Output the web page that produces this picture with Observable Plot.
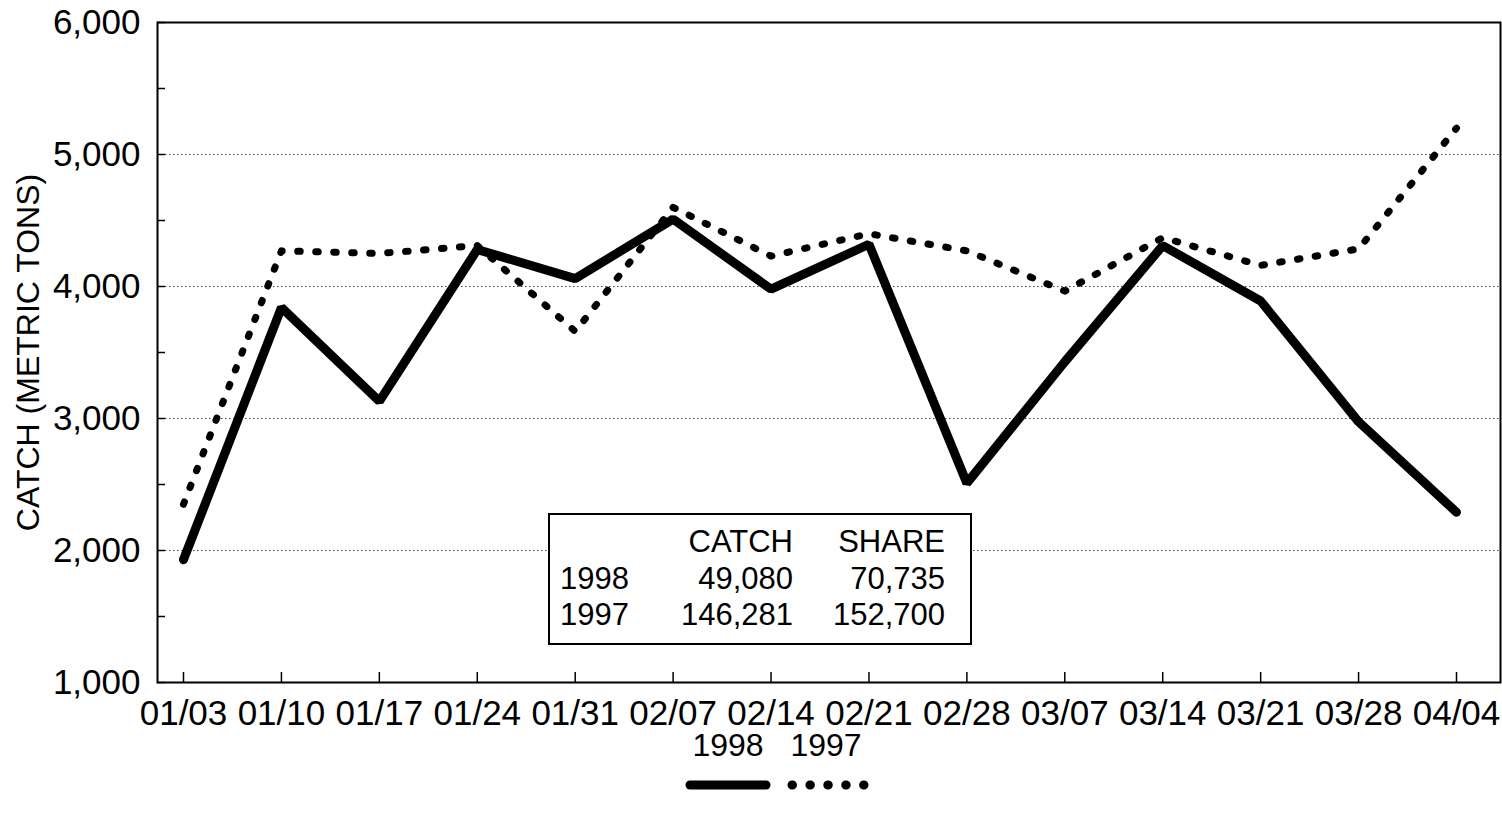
<!DOCTYPE html>
<html><head><meta charset="utf-8">
<script src="https://cdn.jsdelivr.net/npm/d3@7"></script>
<script src="https://cdn.jsdelivr.net/npm/@observablehq/plot@0.6"></script>
<style>
body{margin:0;background:#fff;font-family:"Liberation Sans",Arial,sans-serif;color:#000;}
#wrap{position:relative;width:1502px;height:820px;overflow:hidden;}
#wrap > svg:first-child{position:absolute;left:0;top:0;}
#table{position:absolute;left:548px;top:513px;width:424px;height:132px;box-sizing:border-box;border:2px solid #000;background:#fff;font-size:31px;}
#table div{position:absolute;line-height:36px;white-space:nowrap;}
.leg{position:absolute;font-size:32px;line-height:36px;white-space:nowrap;transform:translateX(-50%);}
</style></head>
<body><div id="wrap"></div>
<script>
const dates = ["01/03","01/10","01/17","01/24","01/31","02/07","02/14","02/21","02/28","03/07","03/14","03/21","03/28","04/04"];
const catch1998 = [1930,3840,3130,4280,4060,4510,3980,4320,2510,3430,4310,3890,2975,2290];
const catch1997 = [2350,4270,4250,4310,3660,4600,4230,4400,4270,3965,4370,4160,4285,5200];
const yTicks = [1000,2000,3000,4000,5000,6000];
const yMinorTicks = [1000,1500,2000,2500,3000,3500,4000,4500,5000,5500,6000];
const gridValues = [2000,3000,4000,5000];
const seriesNames = ["1998","1997"];
const tableHeader = ["CATCH","SHARE"];
const tableYears = ["1998","1997"];
const tableCatch = ["49,080","146,281"];
const tableShare = ["70,735","152,700"];
const yLabel = "CATCH (METRIC TONS)";

const d98 = dates.map((d,i)=>({date:d, value:catch1998[i]}));
const d97 = dates.map((d,i)=>({date:d, value:catch1997[i]}));

const chart = Plot.plot({
  width: 1502, height: 742,
  marginLeft: 157, marginRight: 2, marginTop: 22, marginBottom: 60,
  style: {fontSize: "35px", fontFamily: "'Liberation Sans', Arial, sans-serif", color: "#000", background: "transparent"},
  x: {type: "point", domain: dates, range: [183, 1456], padding: 0, round: false},
  y: {domain: [1000, 6000]},
  marks: [
    Plot.ruleY(gridValues, {stroke: "#444", strokeWidth: 1.2, strokeDasharray: "1.5,2.5"}),
    Plot.axisY({ticks: yMinorTicks, tickSize: 8, dx: 8, tickFormat: () => "", label: null, strokeWidth: 1.5}),
    Plot.axisY({ticks: yTicks, tickSize: 0, tickPadding: 17, tickFormat: d3.format(","), label: null}),
    Plot.axisX({tickSize: 10, dy: -10, tickFormat: () => "", label: null, strokeWidth: 1.5}),
    Plot.axisX({tickSize: 0, tickPadding: 18, label: null}),
    Plot.text([yLabel], {frameAnchor: "left", rotate: -90, dx: -129, fontSize: 32, textAnchor: "middle"}),
    Plot.frame({stroke: "#000", strokeWidth: 2}),
    Plot.line(d97, {x: "date", y: "value", stroke: "#000", strokeWidth: 7, strokeDasharray: "2.5,15.5", strokeLinecap: "round"}),
    Plot.line(d98, {x: "date", y: "value", stroke: "#000", strokeWidth: 9, strokeLinejoin: "miter", strokeLinecap: "round"})
  ]
});
const wrap = document.getElementById("wrap");
wrap.appendChild(chart);

// summary table inside chart
const tbl = document.createElement("div");
tbl.id = "table";
const addCell = (txt, top, left, right) => {
  const c = document.createElement("div");
  c.textContent = txt;
  c.style.top = top + "px";
  if (left != null) c.style.left = left + "px";
  if (right != null) c.style.right = right + "px";
  tbl.appendChild(c);
};
const rowTops = [9, 46, 82];
addCell(tableHeader[0], rowTops[0], null, 177);
addCell(tableHeader[1], rowTops[0], null, 25);
tableYears.forEach((y,i)=>{
  addCell(y, rowTops[i+1], 10, null);
  addCell(tableCatch[i], rowTops[i+1], null, 177);
  addCell(tableShare[i], rowTops[i+1], null, 25);
});
wrap.appendChild(tbl);

// legend below chart
const legCenters = [728, 826];
seriesNames.forEach((n,i)=>{
  const s = document.createElement("div");
  s.className = "leg";
  s.textContent = n;
  s.style.left = legCenters[i] + "px";
  s.style.top = "727px";
  wrap.appendChild(s);
});
const ns = "http://www.w3.org/2000/svg";
const lsvg = document.createElementNS(ns, "svg");
lsvg.setAttribute("width", 1502); lsvg.setAttribute("height", 40);
lsvg.style.position = "absolute"; lsvg.style.left = "0px"; lsvg.style.top = "765px";
const mk = (x1,x2,w,dash) => {
  const l = document.createElementNS(ns, "line");
  l.setAttribute("x1", x1); l.setAttribute("x2", x2);
  l.setAttribute("y1", 20); l.setAttribute("y2", 20);
  l.setAttribute("stroke", "#000"); l.setAttribute("stroke-width", w);
  l.setAttribute("stroke-linecap", "round");
  if (dash) l.setAttribute("stroke-dasharray", dash);
  lsvg.appendChild(l);
};
mk(690, 766, 9, null);
mk(792, 864, 9, "0.5,17.4");
wrap.appendChild(lsvg);
</script>
</body></html>
